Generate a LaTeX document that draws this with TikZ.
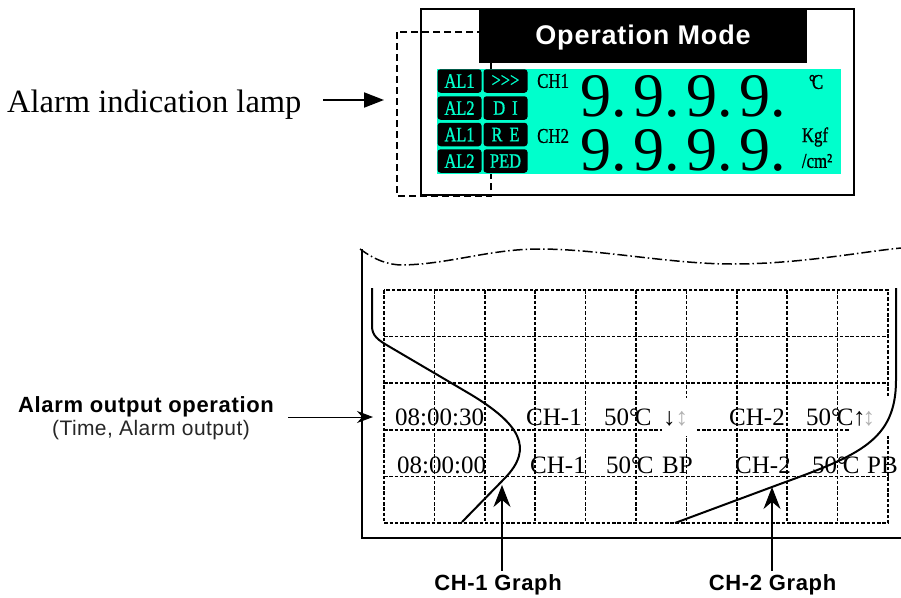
\documentclass[tikz,border=0pt]{standalone}
\usepackage{fontspec}
\setmainfont{Liberation Serif}
\newfontfamily\sansf{Liberation Sans}
\newfontfamily\lampf[FakeStretch=0.8,FakeBold=0.8]{Liberation Serif}
\usetikzlibrary{arrows.meta}
\definecolor{lcd}{RGB}{0,255,204}
\newcommand\degC{°\kern-0.17em C}
\tikzset{
  gridline/.style={line width=1.5pt, dash pattern=on 3.5pt off 1.8pt},
  lampbox/.style={fill=black, rounded corners=3pt, minimum width=44pt, minimum height=23.5pt,
     text=lcd, font=\lampf\fontsize{20.5}{20.5}\selectfont, inner sep=0},
  lcdtxt/.style={font=\lampf\fontsize{21}{21}\selectfont, inner sep=0},
  gtxt/.style={font=\fontsize{25}{25}\selectfont, inner sep=0, anchor=base west},
  bigdig/.style={font=\fontsize{62}{62}\selectfont, inner sep=0, anchor=base west, text height=43pt, text depth=0pt},
  pen/.style={line width=2pt},
  lbl/.style={font=\sansf\bfseries\fontsize{22}{22}\selectfont\addfontfeature{LetterSpace=3}, inner sep=0, anchor=base},
}
\begin{document}
\begin{tikzpicture}[x=1pt,y=-1pt]
\useasboundingbox (0,0) rectangle (901,597);
% ---------- top panel ----------
\draw[line width=1.5pt, dash pattern=on 7pt off 4pt] (397,32) rectangle (491,196);
\draw[line width=2pt] (421,9) rectangle (854,195);
\fill[black] (479,9) rectangle (807,63);
\node[text=white, font=\sansf\bfseries\fontsize{27}{27}\selectfont\addfontfeature{LetterSpace=3}, inner sep=0] (opmode) at (643,38) {Operation Mode};
\fill[lcd] (437,69) rectangle (841,174);
\node[lampbox] (l11) at (459.5,81) {AL1};
\node[lampbox] (l12) at (505.5,81) {>>>};
\node[lampbox] (l21) at (459.5,108) {AL2};
\node[lampbox] (l22) at (505.5,108) {D\hspace{7pt}I};
\node[lampbox] (l31) at (459.5,134.5) {AL1};
\node[lampbox] (l32) at (505.5,134.5) {R\hspace{7pt}E};
\node[lampbox] (l41) at (459.5,161) {AL2};
\node[lampbox] (l42) at (505.5,161) {PED};
\node[lcdtxt, anchor=west] (ch1) at (537,81) {CH1};
\node[lcdtxt, anchor=west] (ch2) at (537,136) {CH2};
\node[bigdig] (d1) at (580,116) {9.\hspace{6.5pt}9.\hspace{6.5pt}9.\hspace{6.5pt}9.};
\node[bigdig] (d2) at (580,170) {9.\hspace{6.5pt}9.\hspace{6.5pt}9.\hspace{6.5pt}9.};
\node[lcdtxt] (unit1) at (816,82) {\degC};
\node[lcdtxt] (unit2) at (815,137) {Kgf};
\node[lcdtxt] (unit3) at (817,161) {/cm²};
% label and arrow
\node[font=\fontsize{32.5}{32.5}\selectfont, inner sep=0, anchor=base west] (lamplbl) at (7,112) {Alarm indication lamp};
\coordinate (a1s) at (323,100);
\coordinate (a1e) at (384,100);
\draw[line width=2pt, -{Triangle[length=20pt,width=15pt]}] (a1s) -- (a1e);
% ---------- bottom panel ----------
\draw[line width=1.5pt, dash pattern=on 10pt off 3pt on 1.5pt off 3pt]
  (360,249) .. controls (375,260) and (388,265) .. (403,265)
  .. controls (450,264) and (490,249) .. (539,249)
  .. controls (600,249) and (670,264) .. (732,264)
  .. controls (800,264) and (860,252) .. (901,248);
\draw[line width=1.3pt] (362,249) -- (362,538) -- (901,538);
% grid
\draw[gridline] (384,290) rectangle (888,523);
\foreach \i in {1,...,9} \draw[gridline] ({384+50.4*\i},290) -- ({384+50.4*\i},523);
\foreach \j in {1,...,4} \draw[gridline] (384,{290+46.6*\j}) -- (888,{290+46.6*\j});
\fill[white] (662,398) rectangle (697,436);
\fill[white] (849,398) rectangle (893,436);
% grid texts
\node[gtxt] (t11) at (395,425) {08:00:30};
\node[gtxt] (t12) at (526,425) {CH-1};
\node[gtxt] (t13) at (604,425) {50\degC};
\node[gtxt] (t14) at (663,425) {↓\textcolor{gray!60}{↕}};
\node[gtxt] (t15) at (729,425) {CH-2};
\node[gtxt] (t16) at (806,425) {50\degC};
\node[gtxt] (t17) at (853,425) {↑\kern-3pt\textcolor{gray!60}{↕}};
\node[gtxt] (t21) at (397,473) {08:00:00};
\node[gtxt] (t22) at (530,473) {CH-1};
\node[gtxt] (t23) at (606,473) {50\degC};
\node[gtxt] (t24) at (662,473) {BP};
\node[gtxt] (t25) at (735,473) {CH-2};
\node[gtxt] (t26) at (812,473) {50\degC};
\node[gtxt] (t27) at (867,473) {PB};
% graph curves
\draw[pen] (372,288) -- (372,326) .. controls (372,336) and (378,340) .. (390,347)
  -- (470,394) .. controls (520,424) and (534,448) .. (505,478) -- (462,522);
\draw[pen] (675,523) -- (780,484) .. controls (860,455) and (896,440) .. (896,380) -- (896,288);
% labels
\node[lbl] (aop) at (146,412) {Alarm output operation};
\node[font=\sansf\fontsize{21}{21}\selectfont\addfontfeature{LetterSpace=2}, text=black!85, inner sep=0, anchor=base] (aop2) at (151,435) {(Time, Alarm output)};
\coordinate (a2s) at (288,417);
\coordinate (a2e) at (373,417);
\draw[line width=1pt, -{Stealth[length=16pt,width=12pt]}] (a2s) -- (a2e);
\node[lbl] (g1) at (498,590) {CH-1 Graph};
\node[lbl] (g2) at (772.5,590) {CH-2 Graph};
\coordinate (g1t) at (502,485);
\coordinate (g2t) at (772,487);
\draw[line width=1.2pt, -{Stealth[length=22pt,width=17pt]}] ([xshift=4pt,yshift=3pt]g1.north) -- (g1t);
\draw[line width=1.2pt, -{Stealth[length=22pt,width=17pt]}] ([xshift=-0.5pt,yshift=3pt]g2.north) -- (g2t);
\end{tikzpicture}
\end{document}
